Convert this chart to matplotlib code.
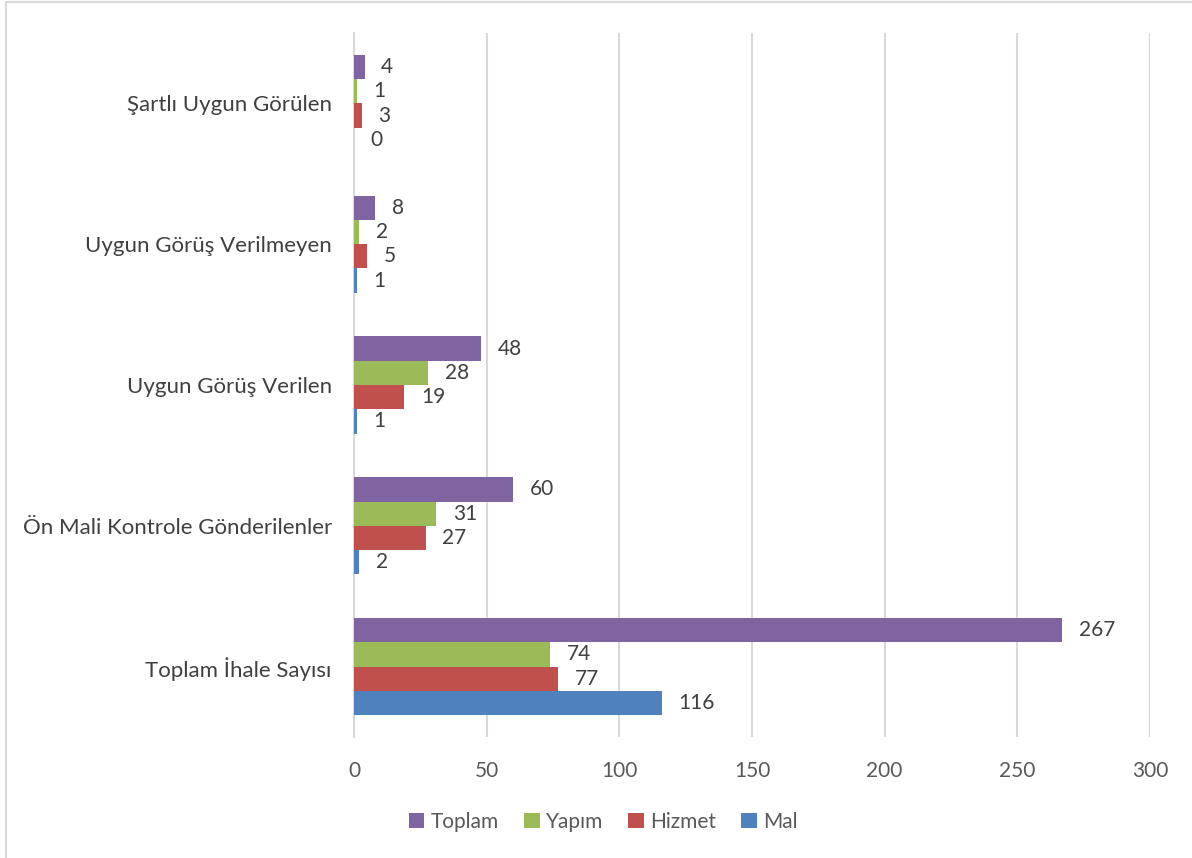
import matplotlib
matplotlib.use("Agg")
import matplotlib.pyplot as plt
import numpy as np
from matplotlib.lines import Line2D

plt.rcParams['font.family'] = ['Lato', 'DejaVu Sans']

categories = ["Toplam İhale Sayısı", "Ön Mali Kontrole Gönderilenler",
              "Uygun Görüş Verilen", "Uygun Görüş Verilmeyen", "Şartlı Uygun Görülen"]
series = ["Mal", "Hizmet", "Yapım", "Toplam"]
mal = [116, 2, 1, 1, 0]
hizmet = [77, 27, 19, 5, 3]
yapim = [74, 31, 28, 2, 1]
toplam = [267, 60, 48, 8, 4]
colors = ["#4F81BD", "#C0504D", "#9BBB59", "#8064A2"]
xticks = [0, 50, 100, 150, 200, 250, 300]

fig = plt.figure(figsize=(11.92, 8.58), dpi=100)
ax = fig.add_axes([354/1192, 1-737/858, (1150-354)/1192, (737-33)/858])

y = np.arange(len(categories))
h = 0.1725
bars = {}
for k, (name, vals, col) in enumerate(zip(series, [mal, hizmet, yapim, toplam], colors)):
    pos = y + (k - 1.5) * h
    b = ax.barh(pos, vals, height=h, color=col, label=name, zorder=3)
    bars[name] = b
    for p, v in zip(pos, vals):
        ax.annotate(str(v), (v, p), xytext=(12, 0), textcoords="offset points",
                    ha="left", va="center", fontsize=15, color="#404040")

ax.set_xlim(0, 300)
ax.set_ylim(-0.5, len(categories) - 0.5)
ax.set_xticks(xticks)
ax.set_yticks(y)
ax.set_yticklabels(categories)
ax.tick_params(axis="x", length=0, pad=17, labelsize=15, labelcolor="#595959")
ax.tick_params(axis="y", length=0, pad=16, labelsize=16, labelcolor="#404040")
ax.grid(axis="x", color="#D9D9D9", linewidth=1.5, zorder=0)
for s in ["top", "right", "bottom"]:
    ax.spines[s].set_visible(False)
ax.spines["left"].set_color("#D9D9D9")
ax.spines["left"].set_linewidth(1.5)

handles = [bars[n] for n in ["Toplam", "Yapım", "Hizmet", "Mal"]]
fig.legend(handles, ["Toplam", "Yapım", "Hizmet", "Mal"], loc="center",
           bbox_to_anchor=(0.506, 1-822/858), ncol=4, frameon=False,
           fontsize=15, handlelength=0.75, handleheight=0.75, handletextpad=0.3,
           columnspacing=1.2, labelcolor="#595959")

fig.add_artist(Line2D([6/1192, 1], [1-2/858, 1-2/858], color="#D9D9D9", linewidth=1.5,
                      transform=fig.transFigure))
fig.add_artist(Line2D([6/1192, 6/1192], [0, 1-2/858], color="#D9D9D9", linewidth=1.5,
                      transform=fig.transFigure))

fig.savefig("out.png", dpi=100)
